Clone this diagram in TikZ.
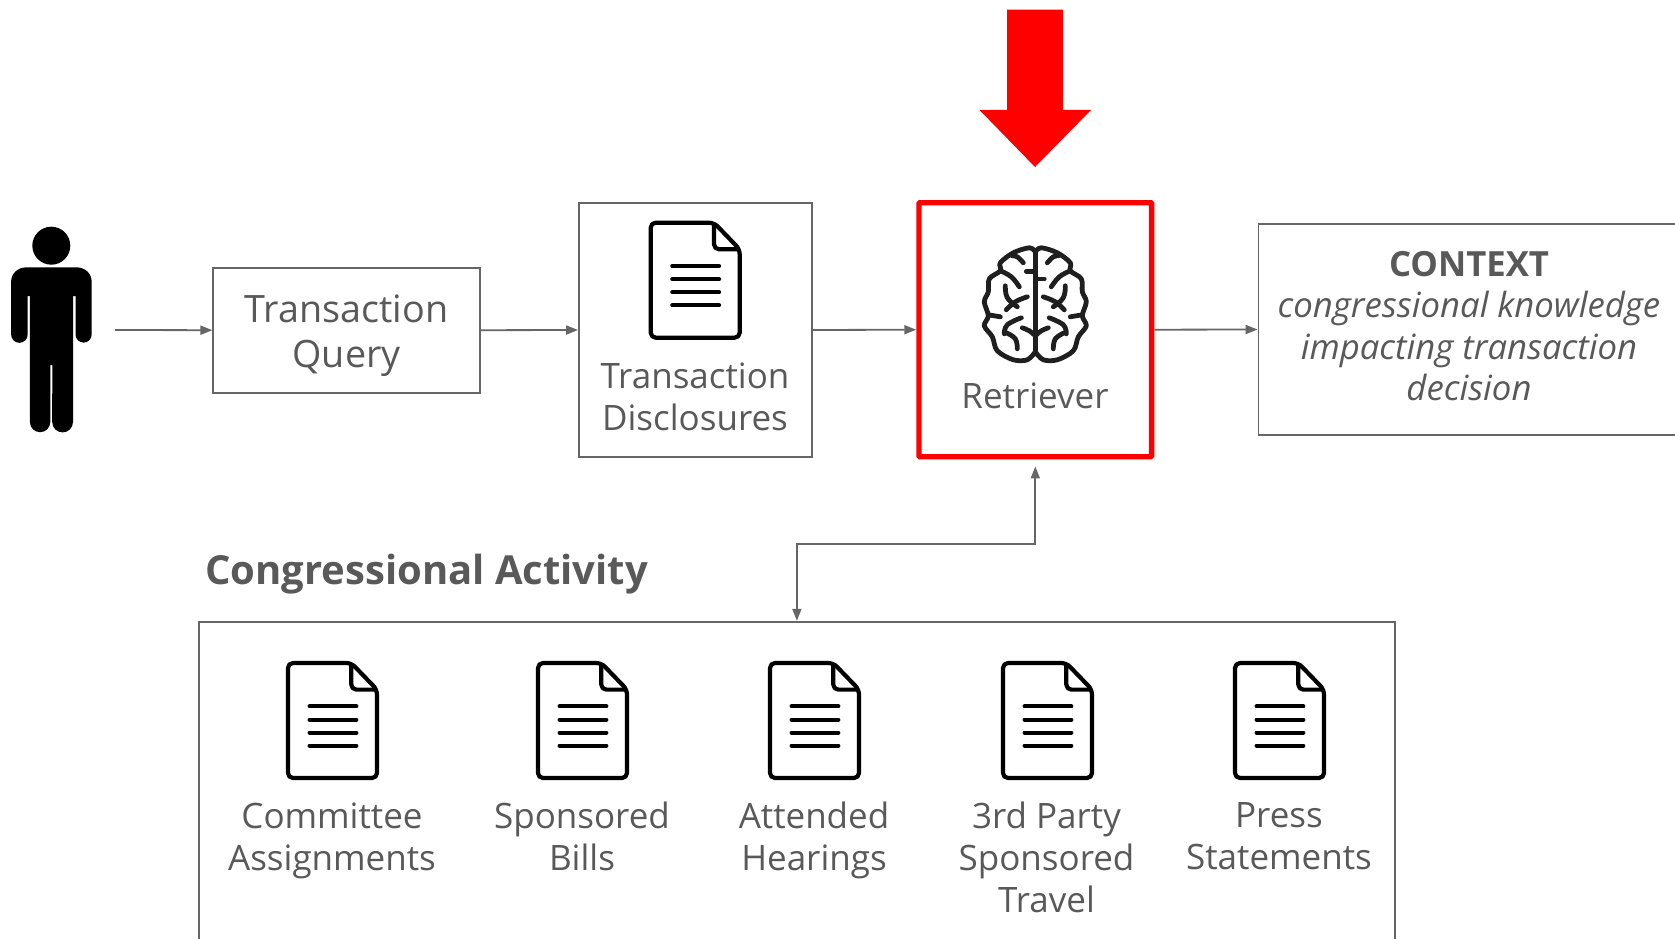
\documentclass[tikz,border=0pt]{standalone}
\usepackage{fontspec}
\setmainfont{Open Sans}
\usetikzlibrary{arrows.meta,positioning,calc}
\definecolor{txtgray}{HTML}{595959}
\definecolor{linegray}{HTML}{666666}
\definecolor{redmark}{HTML}{FF0000}
\tikzset{
  x=1pt,y=-1pt,
  flowbox/.style={draw=linegray,line width=1.8pt,inner sep=0pt,fill=white},
  conn/.style={draw=linegray,line width=1.8pt,-{Triangle[length=12pt,width=9pt]}},
  label31/.style={text=txtgray,align=center,inner sep=0pt,font=\fontsize{35}{41.7}\selectfont},
  pics/docicon/.style={code={
    \draw[line width=4.2pt,line join=round,rounded corners=5pt,fill=white] (0,0) -- (63.3,0) -- (89,26.6) -- (89,115) -- (0,115) -- cycle;
    \draw[line width=4.2pt,line join=round,rounded corners=5pt] (63.3,0) -- (63.3,26.6) -- (89,26.6);
    \foreach \yy in {43.3,56.6,69.6,82.6}
      \draw[line width=4.2pt,line cap=round] (21.6,\yy) -- (68.3,\yy);
  }},
  brainline/.style={line width=4.8pt,color=black!88,line cap=round,line join=round},
  pics/brainhalf/.style={code={
    \draw[brainline] plot[smooth,tension=.55] coordinates {(0,-52) (6,-56) (22,-51) (35,-41) (35,-33) (46,-25) (47,-12) (51,-2) (47,12) (51,22) (43,33) (38,47) (22,56) (8,56) (0,48)};
    \draw[brainline] (0,-52) -- (0,50);
    \draw[brainline] plot[smooth,tension=.6] coordinates {(12,-41) (18,-47) (23,-48)};
    \draw[brainline] plot[smooth,tension=.7] coordinates {(35,-33) (24,-27) (16,-17)};
    \draw[brainline] plot[smooth,tension=.7] coordinates {(30,-18) (28,-6) (18,3)};
    \draw[brainline] plot[smooth,tension=.7] coordinates {(8,-7) (20,-2) (29,6)};
    \draw[brainline] (35,13) -- (47,11);
    \draw[brainline] plot[smooth,tension=.7] coordinates {(14,14) (28,21) (31,30)};
    \draw[brainline] plot[smooth,tension=.7] coordinates {(29,29) (20,35) (18,45)};
    \draw[brainline] plot[smooth,tension=.7] coordinates {(0,32) (6,27) (13,24)};
  }}
}
\begin{document}
\begin{tikzpicture}
\useasboundingbox (0,0) rectangle (1675,939);
% person
\fill[black] (51.3,245.7) circle (19);
\fill[black]
  (27,267.3) -- (76,267.3) .. controls (86,267.3) and (91.7,274) .. (91.7,282)
  -- (91.7,334.5) arc (0:180:8.1) -- (75.5,296) -- (73,296) -- (73,422) arc (0:180:10.4) -- (52.3,365) -- (50.3,365)
  -- (50.3,422) arc (0:180:10.2) -- (30,296) -- (27.7,296) -- (27.7,334.5) arc (0:180:8.3) -- (11.1,282)
  .. controls (11.1,274) and (17,267.3) .. (27,267.3) -- cycle;
\coordinate (personout) at (115,330);
% boxes
\node[flowbox,minimum width=266.6pt,minimum height=125pt] (query) at (346.6,330.2) {};
\node[label31,font=\fontsize{37.7}{45}\selectfont] (querytext) at (346.6,336) {Transaction\\Query};
\node[flowbox,minimum width=233pt,minimum height=254pt] (disc) at (695.5,330) {};
\pic at (650.7,222.7) {docicon};
\node[label31] (disctext) at (695,397) {Transaction\\Disclosures};
\node[draw=redmark,line width=5.4pt,rounded corners=1pt,inner sep=0pt,minimum width=232.7pt,minimum height=254pt] (retr) at (1035.3,329.7) {};
\pic at (1035.3,303.8) {brainhalf};
\pic[xscale=-1] at (1035.3,303.8) {brainhalf};
\coordinate (tickr) at (1035.3,279);
\coordinate (tickl) at (1035.3,271.5);
\draw[brainline] (tickr) -- ++(9,0);
\draw[brainline] (tickl) -- ++(-9,0);
\node[label31] (retrtext) at (1035,396) {Retriever};
\node[flowbox,minimum width=480pt,minimum height=211pt] (context) at (1498.5,329.5) {};
\node[text=txtgray,align=center,inner sep=0pt,font=\fontsize{34.7}{41.5}\selectfont\itshape] (contexttext) at (1469,326) {{\upshape\bfseries CONTEXT}\\congressional knowledge\\impacting transaction\\decision};
% big arrow
\fill[redmark] (1007,9.6) -- (1063,9.6) -- (1063,110) -- (1091,110) -- (1035,167) -- (979.5,110) -- (1007,110) -- cycle;
% activity
\node[text=txtgray,anchor=west,inner sep=0pt,font=\fontsize{40}{46}\selectfont\bfseries] (acttitle) at (205,574) {Congressional Activity};
\node[flowbox,minimum width=1196.4pt,minimum height=400pt] (activity) at (796.9,821.7) {};
\pic at (288,663) {docicon};
\pic at (538,663) {docicon};
\pic at (770,663) {docicon};
\pic at (1003,663) {docicon};
\pic at (1235,663) {docicon};
\node[label31,anchor=north] (d1) at (332,802.5) {Committee\\Assignments};
\node[label31,anchor=north] (d2) at (582,802) {Sponsored\\Bills};
\node[label31,anchor=north] (d3) at (814,802) {Attended\\Hearings};
\node[label31,anchor=north] (d4) at (1046.5,802) {3rd Party\\Sponsored\\Travel};
\node[label31,anchor=north] (d5) at (1279,802.5) {Press\\Statements};
% connectors
\draw[conn] (personout) -- (query.west);
\draw[conn] (query.east) -- (disc.west);
\draw[conn] (disc.east) -- (retr.west);
\draw[conn] (retr.east) -- (context.west);
\coordinate (jog) at (796.9,544);
\draw[conn,{Triangle[length=12pt,width=9pt]}-{Triangle[length=12pt,width=9pt]},shorten >=7pt] (activity.north) -- (jog) -| (retr.south);
\end{tikzpicture}
\end{document}
